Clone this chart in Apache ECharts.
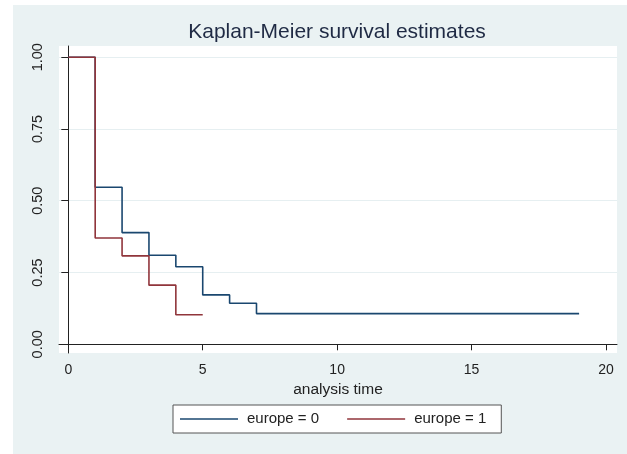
<!DOCTYPE html>
<html>
<head>
<meta charset="utf-8">
<script src="https://cdn.jsdelivr.net/npm/echarts@6/dist/echarts.min.js"></script>
<style>
html,body{margin:0;padding:0;background:#fff;}
#c{width:627px;height:454px;}
</style>
</head>
<body>
<div id="c"></div>
<script>
const titleText = 'Kaplan-Meier survival estimates';
const xName = 'analysis time';
const seriesNames = ['europe = 0', 'europe = 1'];
const times0 = [0, 1, 2, 3, 4, 5, 6, 7, 19];
const surv0 = [1, 0.547, 0.389, 0.310, 0.270, 0.172, 0.143, 0.107, 0.107];
const times1 = [0, 1, 2, 3, 4, 5];
const surv1 = [1, 0.370, 0.308, 0.206, 0.103, 0.103];
const xTicks = [0, 5, 10, 15, 20];
const yTicks = [0, 0.25, 0.5, 0.75, 1];

const chart = echarts.init(document.getElementById('c'), null, {renderer: 'canvas'});
const font = 'Liberation Sans, Arial, Helvetica, sans-serif';
const option = {
  backgroundColor: '#ffffff',
  animation: false,
  graphic: [{
    type: 'rect', z: -100, silent: true,
    shape: {x: 13, y: 5, width: 614, height: 449},
    style: {fill: '#eaf2f3'}
  }],
  title: {
    text: titleText, left: 337, top: 22, textAlign: 'center', padding: 0,
    textStyle: {fontFamily: font, fontSize: 21, fontWeight: 'normal', color: '#1f2a44'}
  },
  grid: {left: 59, top: 46, right: 10, bottom: 101, show: true, backgroundColor: '#ffffff', borderWidth: 0},
  legend: {
    left: 173, top: 405, orient: 'horizontal', icon: 'rect',
    padding: [5, 15, 5, 7], itemGap: 28, itemWidth: 58, itemHeight: 1.5,
    backgroundColor: '#ffffff', borderColor: '#555555', borderWidth: 1, borderRadius: 0,
    textStyle: {fontFamily: font, fontSize: 15, color: '#222222', padding: [0, 0, 0, 4], lineHeight: 18},
    data: seriesNames
  },
  xAxis: {
    type: 'value', min: -0.346, max: 20.41,
    name: xName, nameLocation: 'middle', nameGap: 28,
    nameTextStyle: {fontFamily: font, fontSize: 15.5, color: '#222222'},
    axisLine: {show: true, lineStyle: {color: '#222222', width: 1}},
    axisTick: {show: true, length: 6, customValues: xTicks, lineStyle: {color: '#222222'}},
    axisLabel: {customValues: xTicks, fontFamily: font, fontSize: 14, color: '#222222', margin: 10},
    splitLine: {show: false}
  },
  yAxis: {
    type: 'value', min: -0.0303, max: 1.039,
    axisLine: {show: true, lineStyle: {color: '#222222', width: 1}},
    axisTick: {show: true, length: 7, customValues: yTicks, lineStyle: {color: '#222222'}},
    axisLabel: {
      customValues: yTicks, rotate: 90, fontFamily: font, fontSize: 14.5, color: '#222222', margin: 14,
      align: 'center', verticalAlign: 'bottom',
      formatter: v => v.toFixed(2)
    },
    splitLine: {show: true, lineStyle: {color: '#e6eff1', width: 1}}
  },
  series: [
    {
      name: seriesNames[0], type: 'line', step: 'end', symbol: 'none', showSymbol: false,
      lineStyle: {color: '#1a476f', width: 1.6}, itemStyle: {color: '#1a476f'},
      data: times0.map((t, i) => [t, surv0[i]])
    },
    {
      name: seriesNames[1], type: 'line', step: 'end', symbol: 'none', showSymbol: false,
      lineStyle: {color: '#90353b', width: 1.6}, itemStyle: {color: '#90353b'},
      data: times1.map((t, i) => [t, surv1[i]])
    }
  ]
};
chart.setOption(option);
</script>
</body>
</html>
